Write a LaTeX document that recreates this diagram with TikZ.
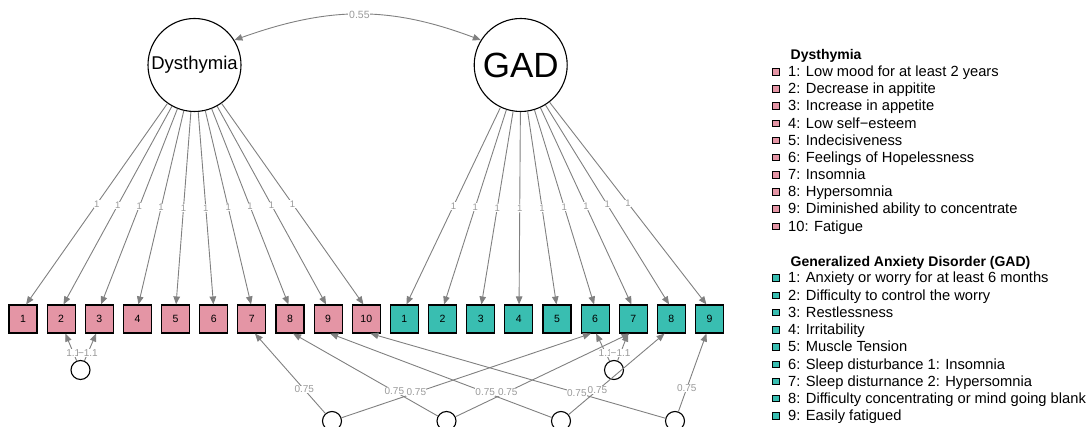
\documentclass[tikz,border=0pt]{standalone}
\usepackage{fontspec}
\setmainfont{Liberation Sans}
\usetikzlibrary{arrows.meta}
\definecolor{dcol}{HTML}{E495A5}
\definecolor{gcol}{HTML}{39BEB1}
\definecolor{edgegray}{HTML}{808080}
\definecolor{labgray}{HTML}{9A9A9A}
\begin{document}
\begin{tikzpicture}[x=1pt,y=-1pt,
 lat/.style={circle,draw=black,line width=1.1pt,fill=white,minimum size=93pt,inner sep=0pt},
 obs/.style={rectangle,draw=black,line width=1.1pt,minimum size=28pt,inner sep=0pt,font=\fontsize{10.5}{12}\selectfont},
 dobs/.style={obs,fill=dcol},
 gobs/.style={obs,fill=gcol},
 res/.style={circle,draw=black,line width=1.1pt,fill=white,minimum size=19pt,inner sep=0pt},
 edge/.style={draw=edgegray,line width=0.9pt,-{Triangle[length=8pt,width=6.5pt]}},
 elab/.style={fill=white,inner sep=0.3pt,text=labgray,font=\fontsize{10}{11}\selectfont},
 llab/.style={fill=white,inner sep=0.5pt,text=labgray,font=\fontsize{9.5}{10}\selectfont},
 leg/.style={anchor=base west,inner sep=0pt,font=\fontsize{14.7}{16}\selectfont},
 leghead/.style={anchor=base west,inner sep=0pt,font=\fontsize{14}{16}\selectfont\bfseries},
 legbox/.style={rectangle,draw=black,line width=0.5pt,minimum size=6.5pt,inner sep=0pt}
]
\useasboundingbox (0,0) rectangle (1086,427);
% latent variables
\node[lat,font=\fontsize{18.5}{20}\selectfont] (D) at (194.5,65) {Dysthymia};
\node[lat,font=\fontsize{35}{36}\selectfont] (G) at (520.7,65) {GAD};
% observed
\foreach \i in {1,...,10}{
  \node[dobs] (d\i) at ({23+38.14*(\i-1)},319) {\i};
}
\foreach \j in {1,...,9}{
  \node[gobs] (g\j) at ({23+38.14*(9+\j)},319) {\j};
}
% loadings
\foreach \i in {1,...,10}{
  \pgfmathsetmacro\ang{90+(23+38.14*(\i-1)-194.5)*0.065}
  \draw[edge] (D) -- node[llab,pos=0.5]{1} (d\i.\ang);
}
\foreach \j in {1,...,9}{
  \pgfmathsetmacro\ang{90+(23+38.14*(9+\j)-520.7)*0.065}
  \draw[edge] (G) -- node[llab,pos=0.5]{1} (g\j.\ang);
}
% covariance
\draw[draw=edgegray,line width=0.9pt,{Triangle[length=8pt,width=6.5pt]}-{Triangle[length=8pt,width=6.5pt]}]
  (D.32) .. controls (330,6) and (390,6) .. node[elab,inner sep=0.8pt,font=\fontsize{10.5}{11}\selectfont,midway]{0.55} (G.148);
% residual circles
\node[res] (r1) at (80.5,370) {};
\node[res] (r2) at (614,370) {};
\draw[edge] (r1) -- node[elab,pos=0.29]{1.1} (d2.-74);
\draw[edge] (r1) -- node[elab,pos=0.29]{−1.1} (d3.-102);
\draw[edge] (r2) -- node[elab,pos=0.29]{1.1} (g6.-86);
\draw[edge] (r2) -- node[elab,pos=0.29]{−1.1} (g7.-110);
% bottom circles
\node[res] (b1) at (332,421) {};
\node[res] (b2) at (446.5,421) {};
\node[res] (b3) at (561,421) {};
\node[res] (b4) at (675,421) {};
\draw[edge] (b1) -- node[elab,pos=0.3]{0.75} (d7.-78);
\draw[edge] (b1) -- node[elab,pos=0.3]{0.75} (g6.-106);
\draw[edge] (b2) -- node[elab,pos=0.3]{0.75} (d8.-78);
\draw[edge] (b2) -- node[elab,pos=0.3]{0.75} (g7.-104);
\draw[edge] (b3) -- node[elab,pos=0.3]{0.75} (d9.-82);
\draw[edge] (b3) -- node[elab,pos=0.3]{0.75} (g8.-115);
\draw[edge] (b4) -- node[elab,pos=0.3]{0.75} (d10.-74);
\draw[edge] (b4) -- node[elab,pos=0.3]{0.75} (g9.-102);
% legend
\node[leghead] (ldh) at (790.5,60) {Dysthymia};
\foreach \t [count=\k] in {1: Low mood for at least 2 years,2: Decrease in appitite,3: Increase in appetite,4: Low self−esteem,5: Indecisiveness,6: Feelings of Hopelessness,7: Insomnia,8: Hypersomnia,9: Diminished ability to concentrate,10: Fatigue}{
  \node[legbox,fill=dcol] (ldb\k) at (775.5,{71.7+17.15*(\k-1)}) {};
  \node[leg] (ldt\k) at (788,{71.7+17.15*(\k-1)+5}) {\t};
}
\node[leghead] (lgh) at (790.5,266.5) {Generalized Anxiety Disorder (GAD)};
\foreach \t [count=\k] in {1: Anxiety or worry for at least 6 months,2: Difficulty to control the worry,3: Restlessness,4: Irritability,5: Muscle Tension,6: Sleep disturbance 1: Insomnia,7: Sleep disturnance 2: Hypersomnia,8: Difficulty concentrating or mind going blank,9: Easily fatigued}{
  \node[legbox,fill=gcol] (lgb\k) at (775.5,{278+17.2*(\k-1)}) {};
  \node[leg] (lgt\k) at (788,{278+17.2*(\k-1)+5}) {\t};
}
\end{tikzpicture}
\end{document}
